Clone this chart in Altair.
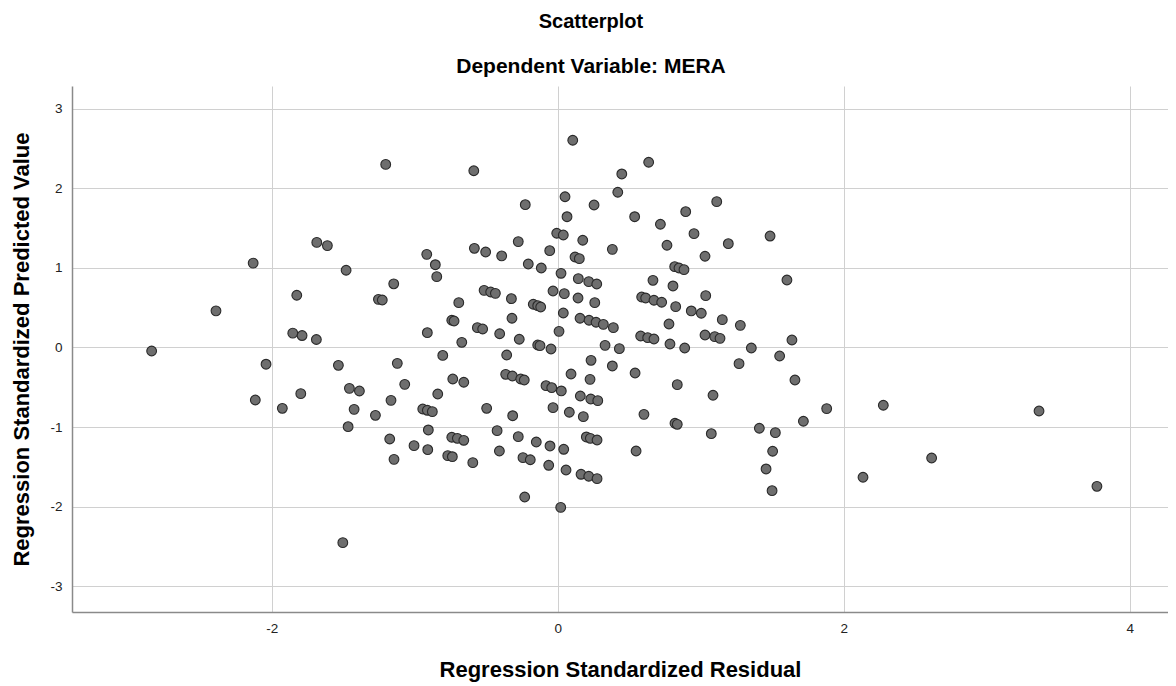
import altair as alt
import pandas as pd

residual = [
    -1.685, -1.611, -2.13, -1.825, -2.39, -1.853, -1.788, -1.688, -2.84, -2.04, -2.115, -1.926, -1.797,
    -1.203, -0.587, -0.583, -0.916, -0.856, -0.846, -1.48, -1.147, -1.254, -1.227, -0.692, -0.741, -0.725,
    -0.562, -0.912, -0.671, -0.804,
    -1.534, -1.122, -0.734, -0.657, -1.457, -1.387, -1.07, -0.839, -1.166, -1.424, -1.275, -0.944, -0.912,
    -0.877, -1.466, -0.905, -1.175, -1.005, -0.909, -0.741, -0.702, -0.657, -1.145, -0.769, -0.737, -0.594,
    -1.503,
    0.105, 0.051, -0.227, 0.254, 0.065, -0.007, 0.039, -0.276, 0.175, -0.504, -0.392, -0.056, 0.121, 0.151,
    -0.206, -0.115, 0.023, 0.144, 0.217, 0.273, -0.515, -0.469, -0.436, -0.324, -0.033, 0.046, 0.142, 0.259,
    -0.171, -0.14, -0.119, -0.32, 0.039, 0.156, 0.219, 0.268, -0.525, -0.406, -0.269, 0.009, -0.14, -0.124,
    -0.047, -0.357,
    0.233, 0.093, 0.226, -0.364, -0.317, -0.259, -0.234, -0.082, -0.042, 0.025, 0.158, 0.231, 0.28, -0.497,
    -0.315, -0.033, 0.081, 0.179, -0.424, -0.276, -0.15, -0.054, 0.042, 0.2, 0.228, 0.275, -0.408, -0.243,
    -0.192, -0.063, 0.058, 0.163, 0.217, 0.275, -0.231, 0.021,
    0.636, 0.448, 0.42, 1.112, 0.538, 0.895, 0.718, 0.953, 0.382, 0.764, 1.03, 0.818, 0.848, 0.883, 0.666,
    0.806, 1.035, 0.587, 0.615, 0.673, 0.727, 0.825, 0.934, 1.004, 0.319, 0.389, 0.778, 0.58, 0.629, 0.673,
    0.331, 0.431, 0.785, 0.888, 1.03, 1.098,
    0.382, 0.541, 0.836, 1.086, 0.603, 0.82, 0.836, 1.074, 0.548,
    1.485, 1.193, 1.603, 1.151, 1.277, 1.135, 1.354, 1.638, 1.552, 1.268, 1.659, 1.881, 1.718, 1.41, 1.522,
    1.503, 1.457, 1.499, 2.135,
    2.277, 3.366, 2.615, 3.771,
]

predicted = [
    1.32, 1.28, 1.06, 0.656, 0.46, 0.18, 0.15, 0.10, -0.044, -0.21, -0.66, -0.764, -0.58,
    2.30, 2.22, 1.246, 1.17, 1.04, 0.89, 0.97, 0.80, 0.605, 0.597, 0.563, 0.342, 0.333,
    0.249, 0.186, 0.065, -0.10,
    -0.224, -0.199, -0.396, -0.437, -0.513, -0.547, -0.463, -0.584, -0.664, -0.777, -0.852, -0.773, -0.789,
    -0.806, -0.995, -1.036, -1.15, -1.233, -1.284, -1.128, -1.141, -1.166, -1.405, -1.359, -1.372, -1.447,
    -2.452,
    2.603, 1.894, 1.794, 1.79, 1.643, 1.435, 1.413, 1.33, 1.347, 1.20, 1.15, 1.216, 1.137, 1.116,
    1.049, 0.999, 0.932, 0.865, 0.827, 0.798, 0.718, 0.697, 0.68, 0.613, 0.71, 0.676, 0.622, 0.563,
    0.543, 0.525, 0.509, 0.367, 0.433, 0.367, 0.342, 0.317, 0.232, 0.173, 0.103, 0.203, 0.031, 0.023,
    -0.019, -0.094,
    -0.161, -0.333, -0.40, -0.337, -0.358, -0.396, -0.408, -0.48, -0.505, -0.546, -0.609, -0.647, -0.668, -0.764,
    -0.857, -0.756, -0.814, -0.869, -1.045, -1.12, -1.187, -1.237, -1.279, -1.124, -1.141, -1.162, -1.30, -1.384,
    -1.41, -1.48, -1.539, -1.593, -1.618, -1.648, -1.878, -2.008,
    2.327, 2.18, 1.95, 1.832, 1.643, 1.706, 1.548, 1.43, 1.233, 1.284, 1.146, 1.015, 0.999, 0.978, 0.844,
    0.773, 0.651, 0.634, 0.622, 0.593, 0.568, 0.513, 0.459, 0.43, 0.291, 0.249, 0.295, 0.144, 0.123, 0.107,
    0.027, -0.015, 0.044, -0.006, 0.157, 0.136,
    -0.232, -0.32, -0.467, -0.60, -0.84, -0.952, -0.965, -1.083, -1.30,
    1.40, 1.304, 0.848, 0.35, 0.278, 0.115, -0.006, 0.094, -0.107, -0.203, -0.408, -0.768, -0.927, -1.015, -1.07,
    -1.304, -1.526, -1.799, -1.63,
    -0.726, -0.798, -1.388, -1.744,
]

x_ticks = [-2, 0, 2, 4]
y_ticks = [-3, -2, -1, 0, 1, 2, 3]

df = pd.DataFrame({"res": residual, "pred": predicted})

FONT = "Liberation Sans"
LABEL_EXPR = "'' + datum.value"

chart = (
    alt.Chart(df)
    .mark_point(filled=True, shape="circle", size=95, fill="#6e6e6e", stroke="#2a2a2a",
                strokeWidth=1.1, opacity=1, fillOpacity=1)
    .encode(
        x=alt.X("res:Q",
                scale=alt.Scale(domain=[-3.397, 4.268], nice=False, zero=False),
                axis=alt.Axis(values=x_ticks, title="Regression Standardized Residual",
                              grid=True, ticks=False, labelPadding=9, titlePadding=25,
                              labelExpr=LABEL_EXPR,
                              labelFontSize=13.5, titleFontSize=22)),
        y=alt.Y("pred:Q",
                scale=alt.Scale(domain=[-3.323, 3.285], nice=False, zero=False),
                axis=alt.Axis(values=y_ticks, title="Regression Standardized Predicted Value",
                              grid=True, ticks=False, labelPadding=10, titlePadding=16,
                              labelExpr=LABEL_EXPR,
                              labelFontSize=13.5, titleFontSize=22)),
    )
    .properties(
        width=1096,
        height=526,
        autosize=alt.AutoSizeParams(type="none"),
        padding={"left": 64, "top": 78, "right": 0, "bottom": 70},
        title=alt.TitleParams(
            text="Scatterplot",
            subtitle="Dependent Variable: MERA",
            anchor="middle",
            dx=-29,
            font=FONT,
            fontSize=20,
            fontWeight="bold",
            color="#000000",
            subtitleFont=FONT,
            subtitleFontSize=21,
            subtitleFontWeight="bold",
            subtitleColor="#000000",
            subtitlePadding=24,
            offset=9,
        ),
    )
    .configure_axis(
        labelFont=FONT,
        titleFont=FONT,
        labelColor="#222222",
        titleColor="#000000",
        titleFontWeight="bold",
        gridColor="#d0d0d0",
        gridWidth=1,
        domainColor="#8a8a8a",
        domainWidth=1.5,
    )
    .configure_view(stroke=None)
)

chart.save("out.html", embed_options={"renderer": "svg", "actions": False})
